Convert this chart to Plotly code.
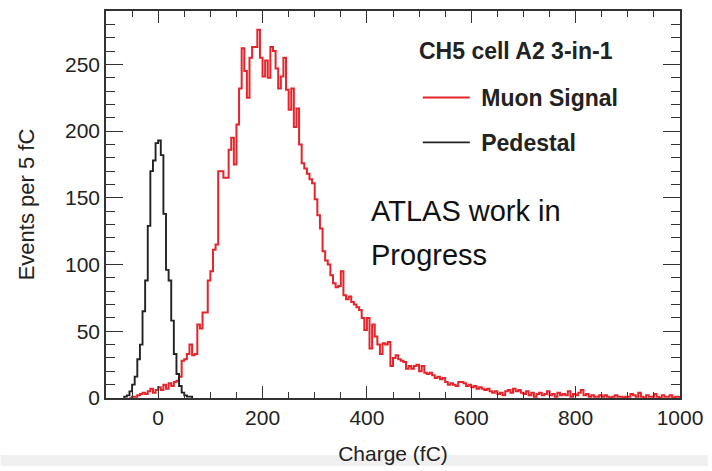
import plotly.graph_objects as go

# ---------------- data ----------------
bin_width = 5  # fC

pedestal_first_edge = -65
pedestal_counts = [
    1, 2, 5, 10, 16, 29, 40, 65, 88, 129,      # -65 .. -20
    170, 178, 191, 193, 182, 138, 96, 88, 58, 33,  # -15 .. 30
    18, 9, 4, 2, 1, 1,                           # 35 .. 60
]

muon_first_edge = -55
muon_counts = [
    0, 1, 1, 2, 3, 4, 3, 5, 7, 4,              # -55 .. -10
    6, 8, 6, 10, 7, 11, 9, 12, 13, 16,         # -5 .. 40
    28, 29, 33, 40, 32, 33, 55, 52, 64, 64,    # 45 .. 90
    88, 95, 111, 115, 170, 170, 165, 165, 186, 195,  # 95 .. 140
    175, 205, 232, 262, 245, 225, 255, 263, 263, 276,  # 145 .. 190
    255, 241, 253, 240, 263, 260, 247, 232, 241, 255,  # 195 .. 240
    231, 216, 232, 203, 217, 190, 176, 172, 168, 164,  # 245 .. 290
    161, 149, 137, 127, 110, 103, 100, 92, 86, 83,     # 295 .. 340
    84, 95, 77, 74, 76, 72, 70, 68, 66, 60,            # 345 .. 390
    51, 60, 37, 55, 46, 40, 33, 41, 40, 42,            # 395 .. 440
    24, 30, 32, 29, 28, 27, 22, 24, 22, 24,            # 445 .. 490
    25, 20, 24, 19, 18, 19, 17, 15, 16, 14,            # 495 .. 540
    15, 12, 10, 11, 10, 9, 12, 12, 11, 9,              # 545 .. 590
    10, 8, 9, 7, 8, 7, 6, 7, 5, 4,                     # 595 .. 640
    5, 3, 4, 2, 5, 6, 4, 7, 5, 6,                      # 645 .. 690
    4, 3, 5, 2, 4, 1, 3, 4, 2, 3,                      # 695 .. 740
    5, 2, 3, 1, 4, 2, 3, 2, 5, 1,                      # 745 .. 790
    3, 2, 4, 6, 2, 3, 1, 2, 1, 1,                      # 795 .. 840
    2, 1, 2, 1, 0, 1, 2, 1, 1, 0,                      # 845 .. 890
    1, 1, 3, 2, 1, 4, 1, 0, 2, 1,                      # 895 .. 940
    1, 3, 1, 0, 2, 1, 1, 2, 0, 1,                      # 945 .. 990
    1,                                                 # 995
]

x_tick_vals = [0, 200, 400, 600, 800, 1000]
x_tick_text = ["0", "200", "400", "600", "800", "1000"]
y_tick_vals = [0, 50, 100, 150, 200, 250]
y_tick_text = ["0", "50", "100", "150", "200", "250"]


def step_xy(first_edge, counts):
    """Bin edges + counts -> outline of a histogram (drawn with line_shape='hv')."""
    edges = [first_edge + i * bin_width for i in range(len(counts) + 1)]
    xs = [edges[0]] + edges + [edges[-1]]
    ys = [0] + list(counts) + [counts[-1], 0]
    return xs, ys


FONT = "Liberation Sans, Arial, Helvetica, sans-serif"
AXIS_COL = "#333333"
NB = "\u00a0"

mx, my = step_xy(muon_first_edge, muon_counts)
px, py = step_xy(pedestal_first_edge, pedestal_counts)

fig = go.Figure()
fig.add_trace(go.Scatter(
    x=mx, y=my, mode="lines", line=dict(color="#e5242b", width=2, shape="hv"),
    name=NB + "<b>Muon Signal</b>", legendgroup="a", hoverinfo="skip",
))
fig.add_trace(go.Scatter(
    x=px, y=py, mode="lines", line=dict(color="#222222", width=1.9, shape="hv"),
    name=NB + "<b>Pedestal</b>", legendgroup="b", hoverinfo="skip",
))

L, R, T, B = 106, 28, 9, 69
W, H = 712, 471
pw, ph = W - L - R, H - T - B

def px_x(p):
    return (p - L) / pw

def px_y(p):
    return (H - B - p) / ph

fig.update_layout(
    width=W, height=H,
    margin=dict(l=L, r=R, t=T, b=B, pad=0),
    paper_bgcolor="white", plot_bgcolor="white",
    font=dict(family=FONT, size=21, color="#222222"),
    showlegend=True,
    legend=dict(
        x=px_x(420), y=px_y(75), xanchor="left", yanchor="top",
        bgcolor="rgba(0,0,0,0)", borderwidth=0,
        font=dict(family=FONT, size=23, color="#222222"),
        traceorder="grouped", tracegroupgap=12,
        itemwidth=47,
    ),
    xaxis=dict(
        range=[-100, 1000], showgrid=False, zeroline=False,
        showline=True, linecolor=AXIS_COL, linewidth=1.6, mirror="ticks",
        ticks="inside", ticklen=12, tickwidth=1.4, tickcolor=AXIS_COL,
        tickvals=x_tick_vals, ticktext=x_tick_text,
        minor=dict(ticks="inside", dtick=50, tick0=0, ticklen=6, tickwidth=1.2, tickcolor=AXIS_COL),
        tickfont=dict(size=21, family=FONT, color="#222222"),
        title=dict(text="Charge (fC)", font=dict(size=21, family=FONT, color="#222222"), standoff=18),
    ),
    yaxis=dict(
        range=[0, 290], showgrid=False, zeroline=False,
        showline=True, linecolor=AXIS_COL, linewidth=1.6, mirror="ticks",
        ticks="inside", ticklen=17, tickwidth=1.4, tickcolor=AXIS_COL,
        tickvals=y_tick_vals, ticktext=y_tick_text,
        minor=dict(ticks="inside", dtick=10, tick0=0, ticklen=9, tickwidth=1.2, tickcolor=AXIS_COL),
        tickfont=dict(size=21, family=FONT, color="#222222"),
        title=dict(text="Events per 5 fC", font=dict(size=22, family=FONT, color="#222222"), standoff=24),
    ),
    shapes=[dict(
        type="rect", xref="paper", yref="paper", layer="below",
        x0=px_x(0), x1=px_x(W), y0=px_y(H), y1=px_y(460),
        fillcolor="#f0f0f0", line=dict(width=0),
    )],
    annotations=[
        dict(text="<b>CH5 cell A2 3-in-1</b>", xref="paper", yref="paper", x=px_x(419), y=px_y(50),
             xanchor="left", yanchor="middle", showarrow=False,
             font=dict(family=FONT, size=23, color="#222222")),
        dict(text="ATLAS work in", xref="paper", yref="paper", x=px_x(371), y=px_y(212),
             xanchor="left", yanchor="middle", showarrow=False,
             font=dict(family=FONT, size=29, color="#111111")),
        dict(text="Progress", xref="paper", yref="paper", x=px_x(371), y=px_y(257),
             xanchor="left", yanchor="middle", showarrow=False,
             font=dict(family=FONT, size=29, color="#111111")),
    ],
)

fig.write_html("out.html")
